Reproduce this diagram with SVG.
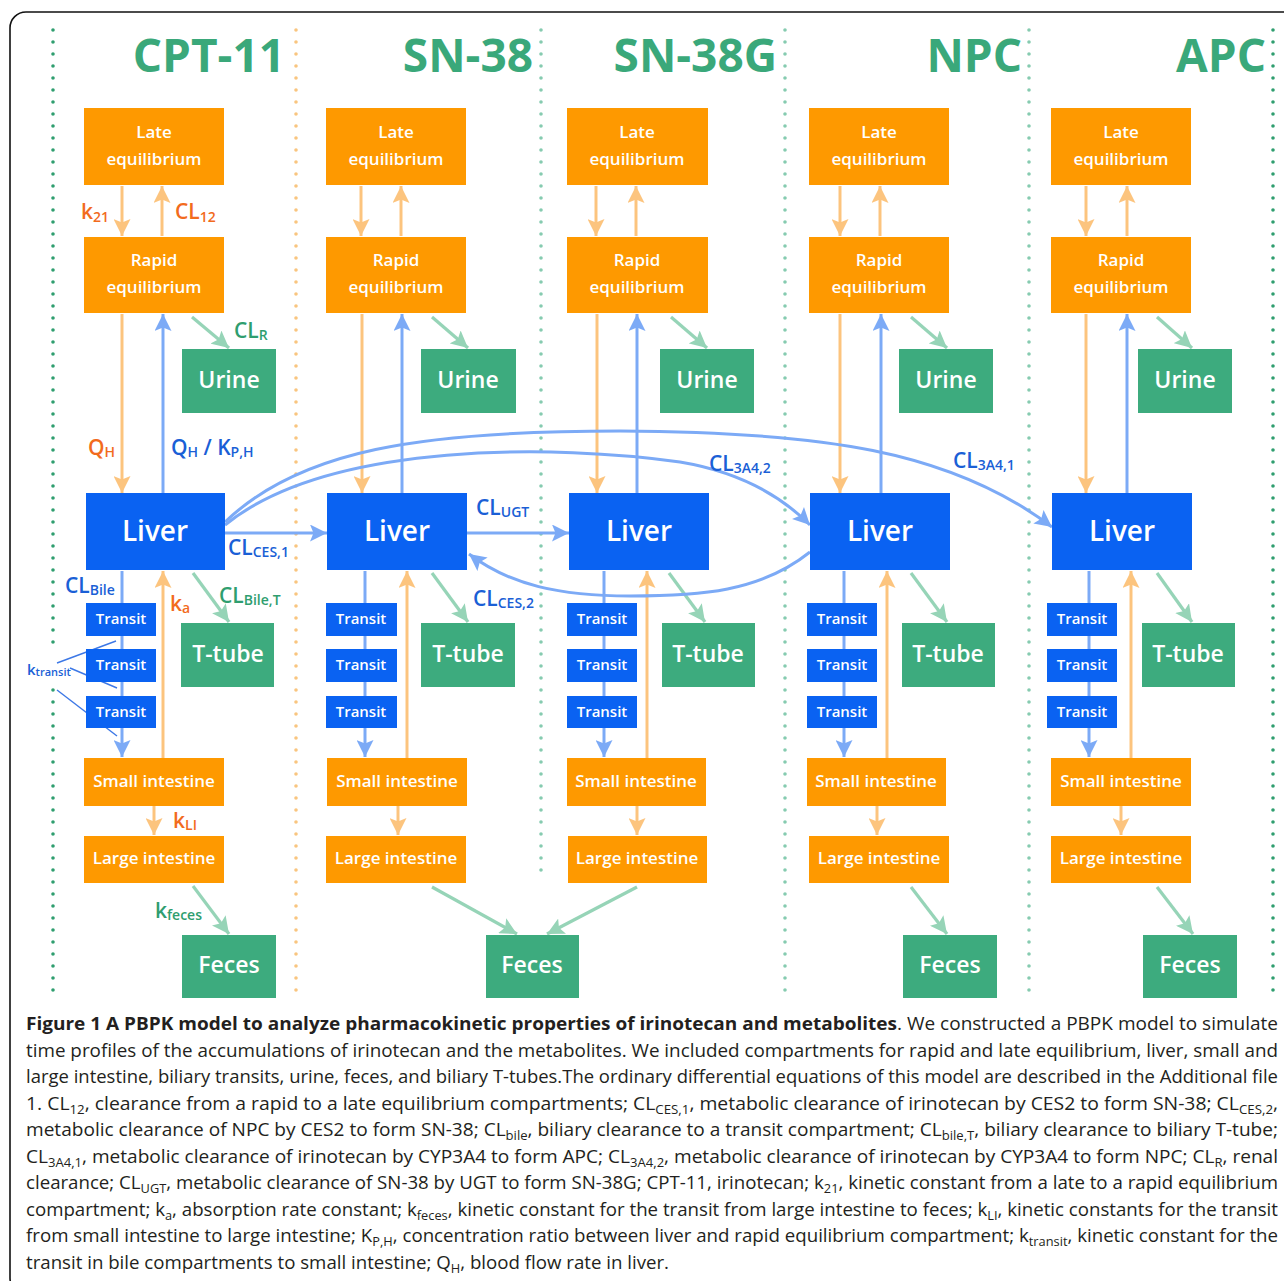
<svg xmlns="http://www.w3.org/2000/svg" width="1284" height="1281" viewBox="0 0 1284 1281">
<style>
  .ob{fill:#fe9900}
  .bb{fill:#0a62f2}
  .gb{fill:#3dab7e}
  .nt{fill:#ffffff;font-family:"Open Sans","Noto Sans",sans-serif;font-weight:600;text-anchor:middle}
  .f17{font-size:17px}
  .f15{font-size:15px}
  .f23{font-size:23px}
  .f28{font-size:28px}
  .ttl{fill:#3aa87a;font-family:"Open Sans","Noto Sans",sans-serif;font-weight:700;font-size:46px;text-anchor:end}
  .ao{stroke:#fcc47e;stroke-width:3;fill:none;marker-end:url(#mo)}
  .ab{stroke:#7caaf6;stroke-width:3;fill:none;marker-end:url(#mb)}
  .ag{stroke:#96d4b7;stroke-width:3.2;fill:none;marker-end:url(#mg)}
  .kt{stroke:#3d78e6;stroke-width:1.4;fill:none}
  .dot{stroke-width:3.6;stroke-linecap:round;stroke-dasharray:0 12;fill:none}
  .dg{stroke:#2f9e6f}
  .do{stroke:#f9c57f}
  .dt{stroke:#86cbb0}
  .lb{font-family:"Open Sans","Noto Sans",sans-serif;font-weight:600;font-size:21px}
  .lo{fill:#f26b1d}
  .lbl{fill:#1a5fd6}
  .lg{fill:#2f9e6f}
  .s{font-size:14px}
  .cap{font-family:"Open Sans","Noto Sans",sans-serif;font-size:17.5px;fill:#231f20}
  .cs{font-size:12px}
</style>
<defs>
  <marker id="mo" markerUnits="userSpaceOnUse" markerWidth="17" markerHeight="17" refX="17" refY="8.5" orient="auto"><path d="M0,0 L17,8.5 L0,17 L3.5,8.5 z" fill="#fcc47e"/></marker>
  <marker id="mb" markerUnits="userSpaceOnUse" markerWidth="17" markerHeight="17" refX="17" refY="8.5" orient="auto"><path d="M0,0 L17,8.5 L0,17 L3.5,8.5 z" fill="#7caaf6"/></marker>
  <marker id="mg" markerUnits="userSpaceOnUse" markerWidth="17" markerHeight="17" refX="17" refY="8.5" orient="auto"><path d="M0,0 L17,8.5 L0,17 L3.5,8.5 z" fill="#96d4b7"/></marker>
</defs>
<rect x="0" y="0" width="1284" height="1281" fill="#ffffff"/>
<rect x="10" y="12" width="1300" height="1282" rx="16" fill="none" stroke="#111" stroke-width="1.6"/>

<g id="dividers">
  <line class="dot dg" x1="53" y1="30" x2="53" y2="652"/>
  <line class="dot dg" x1="53" y1="690" x2="53" y2="998"/>
  <line class="dot do" x1="296" y1="30" x2="296" y2="998"/>
  <line class="dot dt" x1="541" y1="30" x2="541" y2="876"/>
  <line class="dot dt" x1="785" y1="30" x2="785" y2="998"/>
  <line class="dot dt" x1="1029" y1="30" x2="1029" y2="998"/>
  <line class="dot dg" x1="1273" y1="30" x2="1273" y2="998"/>
</g>

<g id="titles">
  <text class="ttl" x="285" y="72">CPT-11</text>
  <text class="ttl" x="533" y="72">SN-38</text>
  <text class="ttl" x="777" y="72">SN-38G</text>
  <text class="ttl" x="1022" y="72">NPC</text>
  <text class="ttl" x="1266" y="72">APC</text>
</g>

<g id="connectors">
  <!-- CPT-11 -->
  <line class="ao" x1="122" y1="186" x2="122" y2="236"/>
  <line class="ao" x1="162" y1="236" x2="162" y2="186"/>
  <line class="ao" x1="122" y1="314" x2="122" y2="493"/>
  <line class="ab" x1="163" y1="493" x2="163" y2="314"/>
  <line class="ag" x1="192" y1="317" x2="229" y2="348"/>
  <line class="ab" x1="122" y1="571" x2="122" y2="757"/>
  <line class="ao" x1="163" y1="758" x2="163" y2="571"/>
  <line class="ag" x1="193" y1="573" x2="229" y2="622"/>
  <line class="ao" x1="154" y1="806" x2="154" y2="835"/>
  <line class="ag" x1="193" y1="886" x2="229" y2="934"/>
  <line class="kt" x1="57" y1="663" x2="116" y2="641"/>
  <line class="kt" x1="70" y1="668" x2="117" y2="688"/>
  <line class="kt" x1="57" y1="690" x2="117" y2="736"/>
  <!-- SN-38 -->
  <line class="ao" x1="361" y1="186" x2="361" y2="236"/>
  <line class="ao" x1="401" y1="236" x2="401" y2="186"/>
  <line class="ao" x1="362" y1="314" x2="362" y2="493"/>
  <line class="ab" x1="402" y1="493" x2="402" y2="314"/>
  <line class="ag" x1="432" y1="317" x2="468" y2="348"/>
  <line class="ab" x1="365" y1="571" x2="365" y2="757"/>
  <line class="ao" x1="407" y1="758" x2="407" y2="571"/>
  <line class="ag" x1="432" y1="573" x2="468" y2="622"/>
  <line class="ao" x1="398" y1="806" x2="398" y2="835"/>
  <line class="ag" x1="432" y1="887" x2="517" y2="934"/>
  <!-- SN-38G -->
  <line class="ao" x1="596" y1="186" x2="596" y2="236"/>
  <line class="ao" x1="636" y1="236" x2="636" y2="186"/>
  <line class="ao" x1="597" y1="314" x2="597" y2="493"/>
  <line class="ab" x1="637" y1="493" x2="637" y2="314"/>
  <line class="ag" x1="671" y1="317" x2="707" y2="348"/>
  <line class="ab" x1="604" y1="571" x2="604" y2="757"/>
  <line class="ao" x1="647" y1="758" x2="647" y2="571"/>
  <line class="ag" x1="669" y1="573" x2="705" y2="622"/>
  <line class="ao" x1="637" y1="806" x2="637" y2="835"/>
  <line class="ag" x1="637" y1="887" x2="547" y2="934"/>
  <!-- NPC -->
  <line class="ao" x1="840" y1="186" x2="840" y2="236"/>
  <line class="ao" x1="880" y1="236" x2="880" y2="186"/>
  <line class="ao" x1="840" y1="314" x2="840" y2="493"/>
  <line class="ab" x1="881" y1="493" x2="881" y2="314"/>
  <line class="ag" x1="911" y1="317" x2="947" y2="348"/>
  <line class="ab" x1="844" y1="571" x2="844" y2="757"/>
  <line class="ao" x1="887" y1="758" x2="887" y2="571"/>
  <line class="ag" x1="911" y1="573" x2="947" y2="622"/>
  <line class="ao" x1="877" y1="806" x2="877" y2="835"/>
  <line class="ag" x1="911" y1="887" x2="947" y2="934"/>
  <!-- APC -->
  <line class="ao" x1="1086" y1="186" x2="1086" y2="236"/>
  <line class="ao" x1="1127" y1="236" x2="1127" y2="186"/>
  <line class="ao" x1="1086" y1="314" x2="1086" y2="493"/>
  <line class="ab" x1="1127" y1="493" x2="1127" y2="314"/>
  <line class="ag" x1="1157" y1="317" x2="1192" y2="348"/>
  <line class="ab" x1="1089" y1="571" x2="1089" y2="757"/>
  <line class="ao" x1="1131" y1="758" x2="1131" y2="571"/>
  <line class="ag" x1="1157" y1="573" x2="1192" y2="622"/>
  <line class="ao" x1="1121" y1="806" x2="1121" y2="835"/>
  <line class="ag" x1="1157" y1="887" x2="1193" y2="934"/>
  <!-- inter-liver -->
  <line class="ab" x1="225" y1="533" x2="327" y2="533"/>
  <line class="ab" x1="467" y1="533" x2="569" y2="533"/>
  <path class="ab" d="M225,522 C300,450 420,431 620,431 C820,432 950,450 1052,527"/>
  <path class="ab" d="M225,525 C330,440 560,445 680,462 C740,472 780,495 810,525"/>
  <path class="ab" d="M810,552 C760,592 700,596 630,596 C560,596 510,585 469,554"/>
</g>

<g id="cpt11">
  <g id="cpt-late"><rect class="ob" x="84" y="108" width="140" height="77"/><text class="nt f17" x="154" y="138">Late</text><text class="nt f17" x="154" y="165">equilibrium</text></g>
  <g id="cpt-rapid"><rect class="ob" x="84" y="237" width="140" height="76"/><text class="nt f17" x="154" y="266">Rapid</text><text class="nt f17" x="154" y="293">equilibrium</text></g>
  <g id="cpt-urine"><rect class="gb" x="182" y="349" width="94" height="64"/><text class="nt f23" x="229" y="388">Urine</text></g>
  <g id="cpt-liver"><rect class="bb" x="86" y="493" width="139" height="77"/><text class="nt f28" x="155" y="541">Liver</text></g>
  <g id="cpt-transit1"><rect class="bb" x="86" y="603" width="70" height="33"/><text class="nt f15" x="121" y="624">Transit</text></g>
  <g id="cpt-transit2"><rect class="bb" x="86" y="649" width="70" height="33"/><text class="nt f15" x="121" y="670">Transit</text></g>
  <g id="cpt-transit3"><rect class="bb" x="86" y="696" width="70" height="32"/><text class="nt f15" x="121" y="717">Transit</text></g>
  <g id="cpt-ttube"><rect class="gb" x="181" y="623" width="93" height="64"/><text class="nt f23" x="228" y="662">T-tube</text></g>
  <g id="cpt-small"><rect class="ob" x="84" y="758" width="140" height="48"/><text class="nt f17" x="154" y="787">Small intestine</text></g>
  <g id="cpt-large"><rect class="ob" x="84" y="836" width="140" height="47"/><text class="nt f17" x="154" y="864">Large intestine</text></g>
  <g id="cpt-feces"><rect class="gb" x="182" y="935" width="94" height="63"/><text class="nt f23" x="229" y="973">Feces</text></g>
</g>

<g id="sn38">
  <g id="sn38-late"><rect class="ob" x="326" y="108" width="140" height="77"/><text class="nt f17" x="396" y="138">Late</text><text class="nt f17" x="396" y="165">equilibrium</text></g>
  <g id="sn38-rapid"><rect class="ob" x="326" y="237" width="140" height="76"/><text class="nt f17" x="396" y="266">Rapid</text><text class="nt f17" x="396" y="293">equilibrium</text></g>
  <g id="sn38-urine"><rect class="gb" x="421" y="349" width="95" height="64"/><text class="nt f23" x="468" y="388">Urine</text></g>
  <g id="sn38-liver"><rect class="bb" x="327" y="493" width="140" height="77"/><text class="nt f28" x="397" y="541">Liver</text></g>
  <g id="sn38-transit1"><rect class="bb" x="326" y="603" width="71" height="33"/><text class="nt f15" x="361" y="624">Transit</text></g>
  <g id="sn38-transit2"><rect class="bb" x="326" y="649" width="71" height="33"/><text class="nt f15" x="361" y="670">Transit</text></g>
  <g id="sn38-transit3"><rect class="bb" x="326" y="696" width="71" height="32"/><text class="nt f15" x="361" y="717">Transit</text></g>
  <g id="sn38-ttube"><rect class="gb" x="421" y="623" width="94" height="64"/><text class="nt f23" x="468" y="662">T-tube</text></g>
  <g id="sn38-small"><rect class="ob" x="327" y="758" width="140" height="48"/><text class="nt f17" x="397" y="787">Small intestine</text></g>
  <g id="sn38-large"><rect class="ob" x="326" y="836" width="140" height="47"/><text class="nt f17" x="396" y="864">Large intestine</text></g>
  <g id="shared-feces"><rect class="gb" x="486" y="935" width="93" height="63"/><text class="nt f23" x="532" y="973">Feces</text></g>
</g>

<g id="sn38g">
  <g id="sn38g-late"><rect class="ob" x="567" y="108" width="141" height="77"/><text class="nt f17" x="637" y="138">Late</text><text class="nt f17" x="637" y="165">equilibrium</text></g>
  <g id="sn38g-rapid"><rect class="ob" x="567" y="237" width="141" height="76"/><text class="nt f17" x="637" y="266">Rapid</text><text class="nt f17" x="637" y="293">equilibrium</text></g>
  <g id="sn38g-urine"><rect class="gb" x="660" y="349" width="94" height="64"/><text class="nt f23" x="707" y="388">Urine</text></g>
  <g id="sn38g-liver"><rect class="bb" x="569" y="493" width="140" height="77"/><text class="nt f28" x="639" y="541">Liver</text></g>
  <g id="sn38g-transit1"><rect class="bb" x="567" y="603" width="70" height="33"/><text class="nt f15" x="602" y="624">Transit</text></g>
  <g id="sn38g-transit2"><rect class="bb" x="567" y="649" width="70" height="33"/><text class="nt f15" x="602" y="670">Transit</text></g>
  <g id="sn38g-transit3"><rect class="bb" x="567" y="696" width="70" height="32"/><text class="nt f15" x="602" y="717">Transit</text></g>
  <g id="sn38g-ttube"><rect class="gb" x="662" y="623" width="93" height="64"/><text class="nt f23" x="708" y="662">T-tube</text></g>
  <g id="sn38g-small"><rect class="ob" x="567" y="758" width="139" height="48"/><text class="nt f17" x="636" y="787">Small intestine</text></g>
  <g id="sn38g-large"><rect class="ob" x="568" y="836" width="139" height="47"/><text class="nt f17" x="637" y="864">Large intestine</text></g>
</g>

<g id="npc">
  <g id="npc-late"><rect class="ob" x="809" y="108" width="140" height="77"/><text class="nt f17" x="879" y="138">Late</text><text class="nt f17" x="879" y="165">equilibrium</text></g>
  <g id="npc-rapid"><rect class="ob" x="809" y="237" width="140" height="76"/><text class="nt f17" x="879" y="266">Rapid</text><text class="nt f17" x="879" y="293">equilibrium</text></g>
  <g id="npc-urine"><rect class="gb" x="899" y="349" width="94" height="64"/><text class="nt f23" x="946" y="388">Urine</text></g>
  <g id="npc-liver"><rect class="bb" x="810" y="493" width="140" height="77"/><text class="nt f28" x="880" y="541">Liver</text></g>
  <g id="npc-transit1"><rect class="bb" x="807" y="603" width="70" height="33"/><text class="nt f15" x="842" y="624">Transit</text></g>
  <g id="npc-transit2"><rect class="bb" x="807" y="649" width="70" height="33"/><text class="nt f15" x="842" y="670">Transit</text></g>
  <g id="npc-transit3"><rect class="bb" x="807" y="696" width="70" height="32"/><text class="nt f15" x="842" y="717">Transit</text></g>
  <g id="npc-ttube"><rect class="gb" x="902" y="623" width="93" height="64"/><text class="nt f23" x="948" y="662">T-tube</text></g>
  <g id="npc-small"><rect class="ob" x="807" y="758" width="139" height="48"/><text class="nt f17" x="876" y="787">Small intestine</text></g>
  <g id="npc-large"><rect class="ob" x="809" y="836" width="140" height="47"/><text class="nt f17" x="879" y="864">Large intestine</text></g>
  <g id="npc-feces"><rect class="gb" x="903" y="935" width="94" height="63"/><text class="nt f23" x="950" y="973">Feces</text></g>
</g>

<g id="apc">
  <g id="apc-late"><rect class="ob" x="1051" y="108" width="140" height="77"/><text class="nt f17" x="1121" y="138">Late</text><text class="nt f17" x="1121" y="165">equilibrium</text></g>
  <g id="apc-rapid"><rect class="ob" x="1051" y="237" width="140" height="76"/><text class="nt f17" x="1121" y="266">Rapid</text><text class="nt f17" x="1121" y="293">equilibrium</text></g>
  <g id="apc-urine"><rect class="gb" x="1138" y="349" width="94" height="64"/><text class="nt f23" x="1185" y="388">Urine</text></g>
  <g id="apc-liver"><rect class="bb" x="1052" y="493" width="140" height="77"/><text class="nt f28" x="1122" y="541">Liver</text></g>
  <g id="apc-transit1"><rect class="bb" x="1047" y="603" width="70" height="33"/><text class="nt f15" x="1082" y="624">Transit</text></g>
  <g id="apc-transit2"><rect class="bb" x="1047" y="649" width="70" height="33"/><text class="nt f15" x="1082" y="670">Transit</text></g>
  <g id="apc-transit3"><rect class="bb" x="1047" y="696" width="70" height="32"/><text class="nt f15" x="1082" y="717">Transit</text></g>
  <g id="apc-ttube"><rect class="gb" x="1142" y="623" width="93" height="64"/><text class="nt f23" x="1188" y="662">T-tube</text></g>
  <g id="apc-small"><rect class="ob" x="1051" y="758" width="140" height="48"/><text class="nt f17" x="1121" y="787">Small intestine</text></g>
  <g id="apc-large"><rect class="ob" x="1051" y="836" width="140" height="47"/><text class="nt f17" x="1121" y="864">Large intestine</text></g>
  <g id="apc-feces"><rect class="gb" x="1143" y="935" width="94" height="63"/><text class="nt f23" x="1190" y="973">Feces</text></g>
</g>

<g id="labels">
  <text class="lb lo" x="81" y="219">k<tspan class="s" dy="3">21</tspan></text>
  <text class="lb lo" x="175" y="219">CL<tspan class="s" dy="3">12</tspan></text>
  <text class="lb lg" x="234" y="338">CL<tspan class="s" dy="2">R</tspan></text>
  <text class="lb lo" x="88" y="455">Q<tspan class="s" dy="2">H</tspan></text>
  <text class="lb lbl" x="171" y="455">Q<tspan class="s" dy="2">H</tspan><tspan dy="-2"> / K</tspan><tspan class="s" dy="2">P,H</tspan></text>
  <text class="lb lbl" x="228" y="555">CL<tspan class="s" dy="2">CES,1</tspan></text>
  <text class="lb lbl" x="65" y="593">CL<tspan class="s" dy="2">Bile</tspan></text>
  <text class="lb lg" x="219" y="603">CL<tspan class="s" dy="2">Bile,T</tspan></text>
  <text class="lb lo" x="170" y="611">k<tspan class="s" dy="2">a</tspan></text>
  <text class="lb lbl" x="27" y="675" style="font-size:15px">k<tspan dy="1" style="font-size:11px">transit</tspan></text>
  <text class="lb lo" x="173" y="828">k<tspan class="s" dy="2">LI</tspan></text>
  <text class="lb lg" x="155" y="918">k<tspan class="s" dy="2">feces</tspan></text>
  <text class="lb lbl" x="476" y="515">CL<tspan class="s" dy="2">UGT</tspan></text>
  <text class="lb lbl" x="473" y="606">CL<tspan class="s" dy="2">CES,2</tspan></text>
  <text class="lb lbl" x="709" y="471">CL<tspan class="s" dy="2">3A4,2</tspan></text>
  <text class="lb lbl" x="953" y="468">CL<tspan class="s" dy="2">3A4,1</tspan></text>
</g>

<g id="caption" class="cap">
  <text x="26" y="1030" textLength="1252" lengthAdjust="spacingAndGlyphs"><tspan font-weight="700">Figure 1 A PBPK model to analyze pharmacokinetic properties of irinotecan and metabolites</tspan>. We constructed a PBPK model to simulate</text>
  <text x="26" y="1057" textLength="1252" lengthAdjust="spacingAndGlyphs">time profiles of the accumulations of irinotecan and the metabolites. We included compartments for rapid and late equilibrium, liver, small and</text>
  <text x="26" y="1083" textLength="1252" lengthAdjust="spacingAndGlyphs">large intestine, biliary transits, urine, feces, and biliary T-tubes.The ordinary differential equations of this model are described in the Additional file</text>
  <text x="26" y="1110" textLength="1252" lengthAdjust="spacingAndGlyphs">1. CL<tspan class="cs" dy="4">12</tspan><tspan dy="-4">, clearance from a rapid to a late equilibrium compartments; CL</tspan><tspan class="cs" dy="4">CES,1</tspan><tspan dy="-4">, metabolic clearance of irinotecan by CES2 to form SN-38; CL</tspan><tspan class="cs" dy="4">CES,2</tspan><tspan dy="-4">,</tspan></text>
  <text x="26" y="1136" textLength="1252" lengthAdjust="spacingAndGlyphs">metabolic clearance of NPC by CES2 to form SN-38; CL<tspan class="cs" dy="4">bile</tspan><tspan dy="-4">, biliary clearance to a transit compartment; CL</tspan><tspan class="cs" dy="4">bile,T</tspan><tspan dy="-4">, biliary clearance to biliary T-tube;</tspan></text>
  <text x="26" y="1163" textLength="1252" lengthAdjust="spacingAndGlyphs">CL<tspan class="cs" dy="4">3A4,1</tspan><tspan dy="-4">, metabolic clearance of irinotecan by CYP3A4 to form APC; CL</tspan><tspan class="cs" dy="4">3A4,2</tspan><tspan dy="-4">, metabolic clearance of irinotecan by CYP3A4 to form NPC; CL</tspan><tspan class="cs" dy="4">R</tspan><tspan dy="-4">, renal</tspan></text>
  <text x="26" y="1189" textLength="1252" lengthAdjust="spacingAndGlyphs">clearance; CL<tspan class="cs" dy="4">UGT</tspan><tspan dy="-4">, metabolic clearance of SN-38 by UGT to form SN-38G; CPT-11, irinotecan; k</tspan><tspan class="cs" dy="4">21</tspan><tspan dy="-4">, kinetic constant from a late to a rapid equilibrium</tspan></text>
  <text x="26" y="1216" textLength="1252" lengthAdjust="spacingAndGlyphs">compartment; k<tspan class="cs" dy="4">a</tspan><tspan dy="-4">, absorption rate constant; k</tspan><tspan class="cs" dy="4">feces</tspan><tspan dy="-4">, kinetic constant for the transit from large intestine to feces; k</tspan><tspan class="cs" dy="4">LI</tspan><tspan dy="-4">, kinetic constants for the transit</tspan></text>
  <text x="26" y="1242" textLength="1252" lengthAdjust="spacingAndGlyphs">from small intestine to large intestine; K<tspan class="cs" dy="4">P,H</tspan><tspan dy="-4">, concentration ratio between liver and rapid equilibrium compartment; k</tspan><tspan class="cs" dy="4">transit</tspan><tspan dy="-4">, kinetic constant for the</tspan></text>
  <text x="26" y="1269" textLength="643" lengthAdjust="spacingAndGlyphs">transit in bile compartments to small intestine; Q<tspan class="cs" dy="4">H</tspan><tspan dy="-4">, blood flow rate in liver.</tspan></text>
</g>
</svg>
